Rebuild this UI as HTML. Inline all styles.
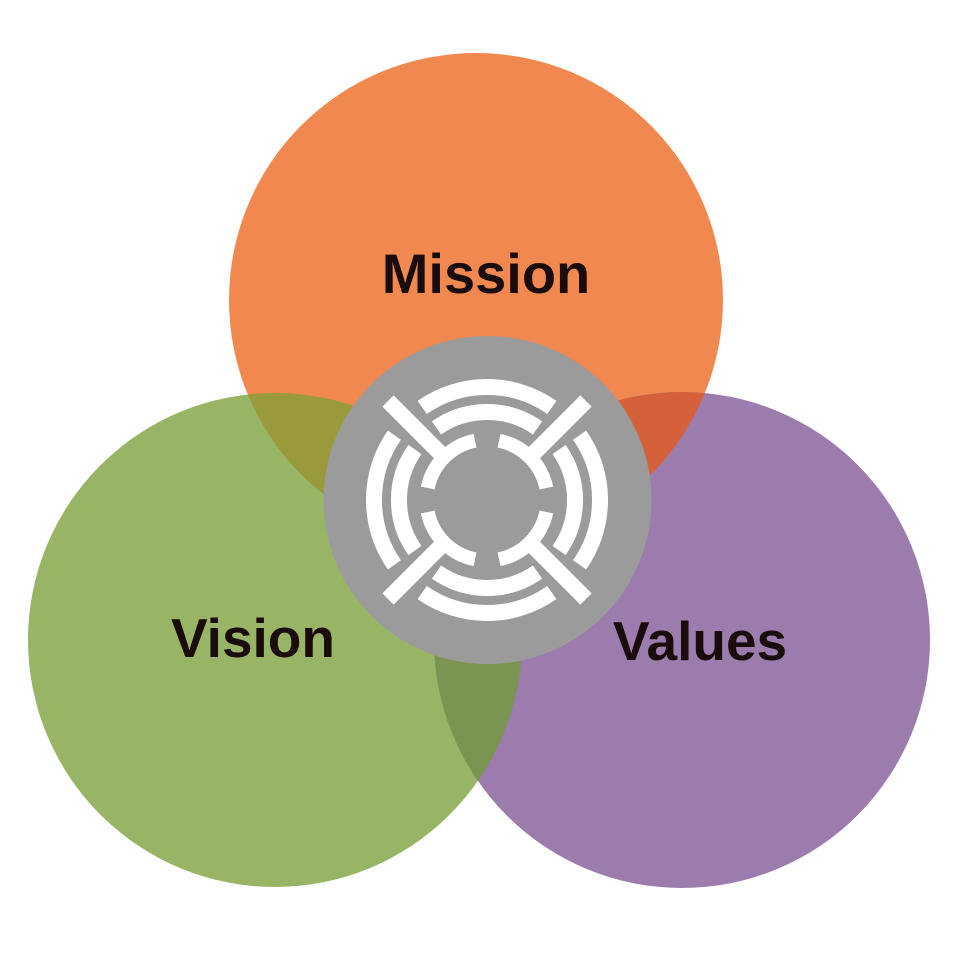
<!DOCTYPE html>
<html><head><meta charset="utf-8"><style>
html,body{margin:0;padding:0;background:#fff;}
svg{display:block;}
text{font-family:"Liberation Sans",sans-serif;font-weight:bold;fill:#1a0c0c;}
</style></head><body>
<svg width="960" height="960" viewBox="0 0 960 960" xmlns="http://www.w3.org/2000/svg">
<defs>
<clipPath id="cO"><circle cx="476" cy="300" r="247"/></clipPath>
<clipPath id="cG"><circle cx="275" cy="640" r="247"/></clipPath>
</defs>
<circle cx="476" cy="300" r="247" fill="#F1884F"/>
<circle cx="275" cy="640" r="247" fill="#98B566"/>
<circle cx="682" cy="640" r="248" fill="#9C7CAC"/>
<circle cx="275" cy="640" r="247" fill="#9A9A3C" clip-path="url(#cO)"/>
<circle cx="682" cy="640" r="248" fill="#D5613B" clip-path="url(#cO)"/>
<circle cx="682" cy="640" r="248" fill="#7A9452" clip-path="url(#cG)"/>
<text x="486" y="293" font-size="56" text-anchor="middle">Mission</text>
<text x="253" y="657" font-size="55" text-anchor="middle">Vision</text>
<text x="700" y="660" font-size="55" text-anchor="middle">Values</text>
<circle cx="487.5" cy="500" r="164" fill="#9B9B9B"/>
<g transform="translate(487,500)" fill="none" stroke="#fff" stroke-width="16">
  <g id="q">
    <path d="M -64.8 -92.6 A 113 113 0 0 1 64.8 -92.6"/>
    <path d="M -50.5 -72.1 A 88 88 0 0 1 50.5 -72.1"/>
    <path d="M -12 -59.3 A 60.5 60.5 0 0 0 -59.3 -12" stroke-width="14"/>
  </g>
  <use href="#q" transform="rotate(90)"/>
  <use href="#q" transform="rotate(180)"/>
  <use href="#q" transform="rotate(270)"/>
  <g stroke-width="16">
    <line x1="-40" y1="-40" x2="-99" y2="-99"/>
    <line x1="40" y1="-40" x2="99" y2="-99"/>
    <line x1="-40" y1="40" x2="-99" y2="99"/>
    <line x1="40" y1="40" x2="99" y2="99"/>
  </g>
</g>
</svg>
</body></html>
